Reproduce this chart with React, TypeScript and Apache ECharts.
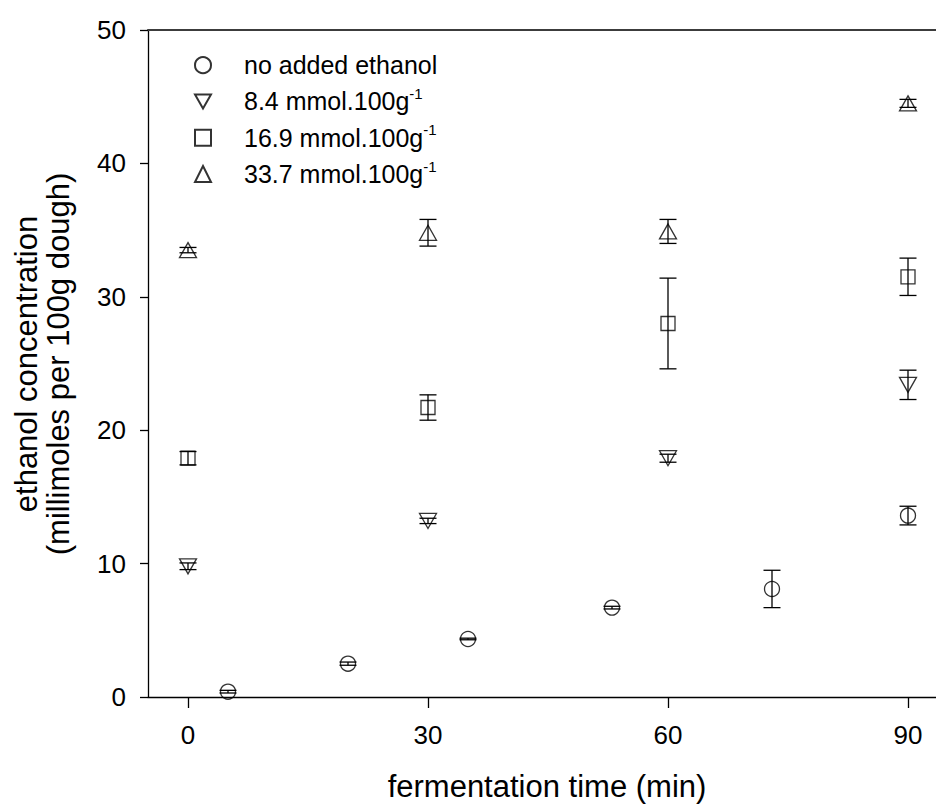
import React, { useEffect, useRef } from 'react';
import * as echarts from 'echarts';

const FONT = '"Liberation Sans", Arial, Helvetica, sans-serif';

// ---- data ----
const xTickValues = [0, 30, 60, 90];

const legendNames = ['no added ethanol', '8.4 mmol.100g-1', '16.9 mmol.100g-1', '33.7 mmol.100g-1'];

const noAddedTime = [5, 20, 35, 53, 73, 90];
const noAddedMean = [0.4, 2.5, 4.35, 6.7, 8.1, 13.6];
const noAddedErr = [0.1, 0.12, 0.06, 0.1, 1.4, 0.7];

const low84Time = [0, 30, 60, 90];
const low84Mean = [9.8, 13.2, 17.9, 23.4];
const low84Err = [0.25, 0.2, 0.3, 1.1];

const mid169Time = [0, 30, 60, 90];
const mid169Mean = [17.9, 21.7, 28.0, 31.5];
const mid169Err = [0.5, 0.95, 3.4, 1.4];

const high337Time = [0, 30, 60, 90];
const high337Mean = [33.5, 34.8, 34.9, 44.5];
const high337Err = [0.2, 1.0, 0.9, 0.3];

const DOWN_TRI = 'path://M0,0 L17,0 L8.5,15 Z';

const groups = [
  { name: legendNames[0], t: noAddedTime, m: noAddedMean, e: noAddedErr, symbol: 'circle', rotate: 0, size: [15, 15], icon: 'circle' },
  { name: legendNames[1], t: low84Time, m: low84Mean, e: low84Err, symbol: DOWN_TRI, rotate: 0, size: [17, 15], icon: DOWN_TRI },
  { name: legendNames[2], t: mid169Time, m: mid169Mean, e: mid169Err, symbol: 'rect', rotate: 0, size: [14, 14], icon: 'rect' },
  { name: legendNames[3], t: high337Time, m: high337Mean, e: high337Err, symbol: 'triangle', rotate: 0, size: [17, 15], icon: 'triangle' },
];

export default function App() {
  const ref = useRef<HTMLDivElement>(null);

  useEffect(() => {
    if (!ref.current) return;
    const chart = echarts.init(ref.current, null, { renderer: 'svg' });

    const hollow = { color: 'rgba(0,0,0,0)', borderColor: '#000', borderWidth: 1.3 };

    const series: any[] = [];
    groups.forEach((g) => {
      series.push({
        type: 'custom',
        name: 'err ' + g.name,
        silent: true,
        encode: { x: 0, y: 1 },
        data: g.t.map((t, i) => [t, g.m[i], g.e[i]]),
        renderItem: (params: any, api: any) => {
          const x = api.value(0);
          const y = api.value(1);
          const e = api.value(2);
          const top = api.coord([x, y + e]);
          const bot = api.coord([x, y - e]);
          const hw = 8.5;
          const style = { stroke: '#000', lineWidth: 1.3, fill: 'none' };
          return {
            type: 'group',
            children: [
              { type: 'line', shape: { x1: top[0], y1: top[1], x2: bot[0], y2: bot[1] }, style },
              { type: 'line', shape: { x1: top[0] - hw, y1: top[1], x2: top[0] + hw, y2: top[1] }, style },
              { type: 'line', shape: { x1: bot[0] - hw, y1: bot[1], x2: bot[0] + hw, y2: bot[1] }, style },
            ],
          };
        },
      });
      series.push({
        type: 'scatter',
        name: g.name,
        symbol: g.symbol,
        symbolRotate: g.rotate,
        symbolSize: g.size,
        itemStyle: hollow,
        emphasis: { disabled: true },
        data: g.t.map((t, i) => [t, g.m[i]]),
        z: 3,
      });
    });

    const option: any = {
      animation: false,
      backgroundColor: '#fff',
      textStyle: { fontFamily: FONT, color: '#000' },
      grid: { left: 148, right: 0, top: 30, bottom: 109, containLabel: false },
      xAxis: [
        {
          type: 'value',
          min: -5,
          max: 93.5,
          splitLine: { show: false },
          axisLine: { onZero: false, lineStyle: { color: '#000', width: 1.3 } },
          axisTick: { show: true, length: 11, customValues: xTickValues, lineStyle: { color: '#000', width: 1.3 } },
          axisLabel: { customValues: xTickValues, fontSize: 26, color: '#000', fontFamily: FONT, margin: 25 },
        },
        {
          type: 'value',
          position: 'top',
          min: -5,
          max: 93.5,
          splitLine: { show: false },
          axisLine: { onZero: false, lineStyle: { color: '#3c3c3c', width: 2 } },
          axisTick: { show: false },
          axisLabel: { show: false },
        },
      ],
      yAxis: {
        type: 'value',
        min: 0,
        max: 50,
        interval: 10,
        splitLine: { show: false },
        axisLine: { show: true, onZero: false, lineStyle: { color: '#000', width: 1.3 } },
        axisTick: { show: true, length: 8, lineStyle: { color: '#000', width: 1.3 } },
        axisLabel: { fontSize: 26, color: '#000', fontFamily: FONT, margin: 22 },
      },
      legend: {
        orient: 'vertical',
        left: 189,
        top: 42,
        itemWidth: 16,
        itemHeight: 16,
        itemGap: 0,
        selectedMode: false,
        data: groups.map((g) => ({ name: g.name, icon: g.icon })),
        formatter: (name: string) => (name.endsWith('-1') ? name.slice(0, -2) + '{sup|-1}' : name),
        textStyle: {
          fontSize: 25,
          color: '#000',
          fontFamily: FONT,
          lineHeight: 36.3,
          padding: [0, 0, 0, 28],
          rich: {
            sup: { fontSize: 15, lineHeight: 15, color: '#000', fontFamily: FONT, verticalAlign: 'middle', padding: [0, 0, 16, 0] },
          },
        },
      },
      graphic: [
        {
          type: 'text',
          x: 26,
          y: 364,
          rotation: Math.PI / 2,
          style: { text: 'ethanol concentration', fontSize: 31, fontFamily: FONT, fill: '#000', align: 'center', verticalAlign: 'middle' },
        },
        {
          type: 'text',
          x: 58,
          y: 364,
          rotation: Math.PI / 2,
          style: { text: '(millimoles per 100g dough)', fontSize: 31, fontFamily: FONT, fill: '#000', align: 'center', verticalAlign: 'middle' },
        },
        {
          type: 'text',
          x: 547,
          y: 786,
          style: { text: 'fermentation time (min)', fontSize: 31, fontFamily: FONT, fill: '#000', align: 'center', verticalAlign: 'middle' },
        },
      ],
      series,
    };

    chart.setOption(option);
    return () => chart.dispose();
  }, []);

  return <div ref={ref} style={{ position: 'absolute', left: 0, top: 0, width: 936, height: 806 }} />;
}
